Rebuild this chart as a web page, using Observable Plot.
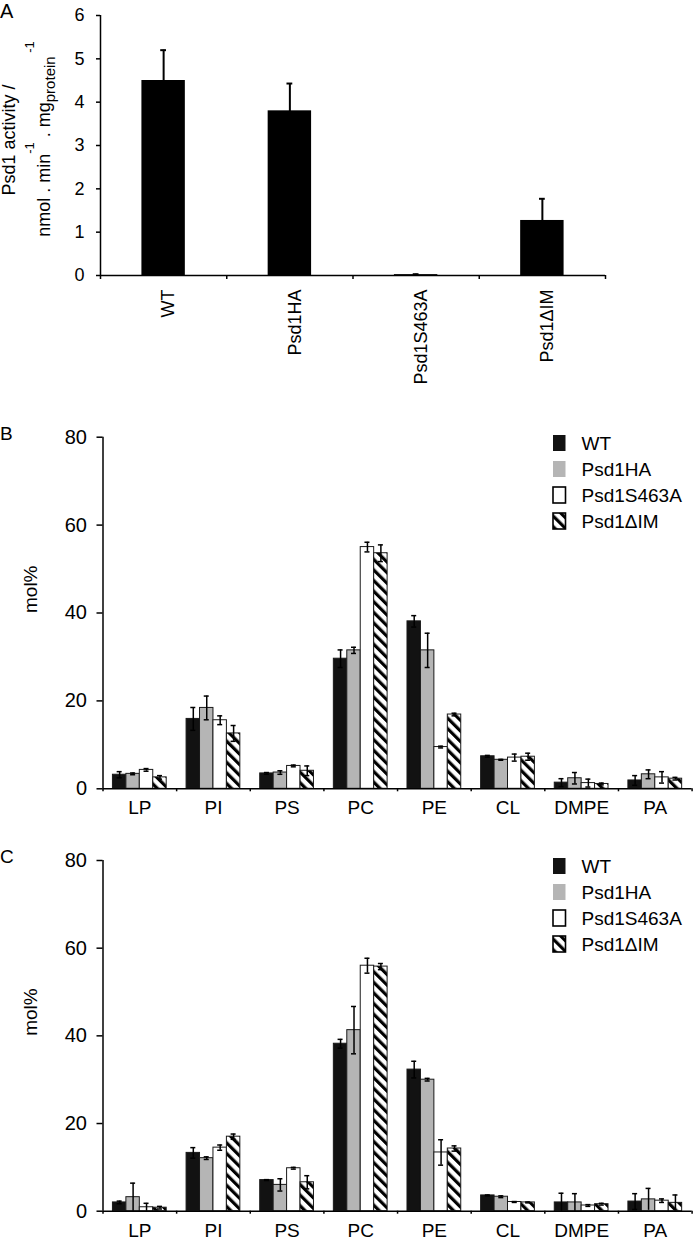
<!DOCTYPE html>
<html><head><meta charset="utf-8">
<script src="https://cdn.jsdelivr.net/npm/d3@7"></script>
<script src="https://cdn.jsdelivr.net/npm/@observablehq/plot@0.6"></script>
<style>
body{margin:0;background:#fff;}
#fig{position:relative;width:693px;height:1239px;font-family:"Liberation Sans",Arial,sans-serif;}
#fig svg.panel{position:absolute;left:0;}
</style></head><body>
<svg width="0" height="0" style="position:absolute">
<defs><pattern id="hatch" patternUnits="userSpaceOnUse" width="7.5" height="7.5" patternTransform="rotate(-45)">
<rect width="7.5" height="7.5" fill="#fff"/><rect width="3.2" height="7.5" fill="#000"/></pattern></defs></svg>
<div id="fig"></div>
<script>
// ---------- data ----------
const strains = ["WT", "Psd1HA", "Psd1S463A", "Psd1ΔIM"];
const categories = ["LP", "PI", "PS", "PC", "PE", "CL", "DMPE", "PA"];

// Panel A: Psd1 activity
const activity    = [4.5, 3.8, 0.02, 1.27];
const activityErr = [0.7, 0.63, 0.01, 0.5];
const ticksA = [0, 1, 2, 3, 4, 5, 6];

// Panel B: mol% (means, errors) per strain
const bWT    = [3.2, 15.9, 3.5, 29.6, 38.1, 7.4, 1.4, 1.9];
const bHA    = [3.4, 18.4, 3.7, 31.5, 31.5, 6.6, 2.4, 3.3];
const bS463A = [4.3, 15.6, 5.2, 55.0, 9.5, 7.1, 1.3, 2.6];
const bDIM   = [2.6, 12.6, 4.1, 53.6, 16.9, 7.3, 1.1, 2.3];
const bWTerr    = [0.7, 2.6, 0.2, 2.0, 1.3, 0.2, 0.9, 1.1];
const bHAerr    = [0.2, 2.7, 0.4, 0.7, 3.9, 0.1, 1.3, 1.0];
const bS463Aerr = [0.3, 1.0, 0.2, 1.1, 0.2, 0.8, 0.9, 1.3];
const bDIMerr   = [0.4, 1.8, 1.1, 1.9, 0.3, 0.8, 0.2, 0.3];

// Panel C: mol% (means, errors) per strain
const cWT    = [2.0, 13.3, 7.1, 38.2, 32.3, 3.6, 2.0, 2.2];
const cHA    = [3.2, 12.1, 6.0, 41.3, 30.0, 3.3, 2.0, 2.7];
const cS463A = [0.9, 14.5, 9.8, 56.0, 13.4, 2.1, 1.3, 2.4];
const cDIM   = [0.8, 17.0, 6.6, 55.8, 14.3, 2.0, 1.6, 1.9];
const cWTerr    = [0.3, 1.2, 0.1, 1.0, 1.9, 0.1, 2.1, 1.8];
const cHAerr    = [3.2, 0.3, 1.4, 5.4, 0.3, 0.2, 2.0, 2.5];
const cS463Aerr = [0.9, 0.6, 0.2, 1.7, 2.9, 0.1, 0.2, 0.4];
const cDIMerr   = [0.3, 0.6, 1.5, 0.7, 0.6, 0.1, 0.2, 1.8];

const ticksBC = [0, 20, 40, 60, 80];

// ---------- styles ----------
const FONT = '"Liberation Sans", Arial, sans-serif';
const fills = ["#121212", "#b5b5b5", "#ffffff", "url(#hatch)"];
const baseStyle = {fontFamily: FONT, fontSize: "19px", color: "#000", background: "transparent", overflow: "visible"};
const fig = document.getElementById("fig");

function place(svg, top) {
  svg.classList.add("panel");
  svg.style.top = top + "px";
  fig.appendChild(svg);
  return d3.select(svg);
}

// ---------- Panel A ----------
{
  const rows = strains.map((s, j) => ({strain: s, j, v: activity[j], e: activityErr[j]}));
  const pad = 0.328, bw = 0.344, cap = 0.023;
  const cx = d => d.j + pad + bw / 2;
  const p = Plot.plot({
    width: 693, height: 400,
    marginLeft: 100, marginRight: 88, marginTop: 15, marginBottom: 125,
    x: {domain: [0, strains.length], axis: null},
    y: {domain: [0, 6], axis: null},
    style: baseStyle,
    marks: [
      Plot.rectY(rows, {x1: d => d.j + pad, x2: d => d.j + pad + bw, y1: 0, y2: "v", fill: "#000"}),
      Plot.ruleX(rows, {x: cx, y1: d => Math.max(0, d.v - d.e), y2: d => d.v + d.e, stroke: "#000", strokeWidth: 2}),
      Plot.ruleY(rows, {y: d => d.v + d.e, x1: d => cx(d) - cap, x2: d => cx(d) + cap, stroke: "#000", strokeWidth: 2}),
      Plot.ruleX([0], {stroke: "#000", strokeWidth: 1.5}),
      Plot.ruleY([0], {stroke: "#000", strokeWidth: 1.5}),
      Plot.axisY({ticks: ticksA, tickFormat: d3.format("d"), tickSize: 4, tickPadding: 12, fontSize: 18, strokeWidth: 1.5, label: null}),
      Plot.axisX({ticks: d3.range(strains.length + 1), tickSize: 4, tickFormat: () => "", strokeWidth: 1.5, label: null}),
      Plot.axisX({ticks: strains.map((s, j) => j + 0.5), tickFormat: t => strains[Math.floor(t)], tickSize: 0, tickPadding: 14, tickRotate: -90, fontSize: 18, dx: 5, label: null})
    ]
  });
  const svg = place(p, 0);
  svg.append("text").attr("x", 0).attr("y", 18).attr("text-anchor", "start").attr("font-size", 20).attr("font-family", FONT).text("A");
  // y label, two lines
  svg.append("text").attr("transform", "translate(15,140) rotate(-90)").attr("text-anchor", "middle")
    .attr("font-size", 18).attr("font-family", FONT).text("Psd1 activity /");
  const t2 = svg.append("text").attr("transform", "translate(50,139) rotate(-90)").attr("text-anchor", "middle")
    .attr("font-size", 18).attr("font-family", FONT);
  t2.append("tspan").text("nmol . min");
  t2.append("tspan").attr("dy", -16).attr("font-size", 13).text("-1");
  t2.append("tspan").attr("dy", 16).text(" . mg");
  t2.append("tspan").attr("dy", 5).attr("font-size", 15).text("protein");
  t2.append("tspan").attr("dy", -21).attr("font-size", 13).text(" -1");
}

// ---------- Panels B and C ----------
function grouped({means, errs, top, height, mt, mb, letter}) {
  const rows = [];
  categories.forEach((c, i) => strains.forEach((s, j) =>
    rows.push({cat: c, i, strain: s, j, v: means[j][i], e: errs[j][i]})));
  const pad = 0.135, bw = 0.1825, cap = 0.034;
  const x1 = d => d.i + pad + d.j * bw;
  const cx = d => x1(d) + bw / 2;
  const p = Plot.plot({
    width: 693, height,
    marginLeft: 102.5, marginRight: 1.4, marginTop: mt, marginBottom: mb,
    x: {domain: [0, categories.length], axis: null},
    y: {domain: [0, 80], axis: null},
    color: {type: "ordinal", domain: strains, range: fills},
    style: baseStyle,
    marks: [
      Plot.rectY(rows, {x1, x2: d => x1(d) + bw, y1: 0, y2: "v", fill: "strain", stroke: "#1a1a1a", strokeWidth: 1}),
      Plot.ruleX(rows, {x: cx, y1: d => Math.max(0, d.v - d.e), y2: d => d.v + d.e, stroke: "#000", strokeWidth: 1.5}),
      Plot.ruleY(rows, {y: d => d.v + d.e, x1: d => cx(d) - cap, x2: d => cx(d) + cap, stroke: "#000", strokeWidth: 1.5}),
      Plot.ruleY(rows.filter(d => d.v - d.e > 0.3), {y: d => d.v - d.e, x1: d => cx(d) - cap, x2: d => cx(d) + cap, stroke: "#000", strokeWidth: 1.5}),
      Plot.ruleX([0], {stroke: "#000", strokeWidth: 1.5}),
      Plot.ruleY([0], {stroke: "#000", strokeWidth: 1.5}),
      Plot.axisY({ticks: ticksBC, tickSize: 6, tickPadding: 10, fontSize: 20, strokeWidth: 1.5, label: null}),
      Plot.text(["mol%"], {frameAnchor: "left", rotate: -90, dx: -80, lineAnchor: "top", fontSize: 19}),
      Plot.axisX({ticks: d3.range(categories.length + 1), tickSize: 3, tickFormat: () => "", strokeWidth: 1.5, label: null}),
      Plot.axisX({ticks: categories.map((c, i) => i + 0.5), tickFormat: t => categories[Math.floor(t)], tickSize: 0, tickPadding: 12, fontSize: 19, label: null})
    ]
  });
  const svg = place(p, top);
  svg.append("text").attr("x", 0).attr("y", 40).attr("text-anchor", "start").attr("font-size", 19).attr("font-family", FONT).text(letter);
  // legend
  const lg = svg.append("g").attr("font-family", FONT).attr("font-size", 19).attr("text-anchor", "start");
  strains.forEach((s, j) => {
    const cy = 43 + j * 26;
    lg.append("rect").attr("x", 553).attr("y", cy - 8).attr("width", 12.5).attr("height", 16)
      .attr("fill", fills[j]).attr("stroke", j >= 2 ? "#000" : "none").attr("stroke-width", 1.6);
    lg.append("text").attr("x", 581.5).attr("y", cy).attr("dy", "0.36em").text(s);
  });
}

grouped({means: [bWT, bHA, bS463A, bDIM], errs: [bWTerr, bHAerr, bS463Aerr, bDIMerr], top: 400, height: 423, mt: 36.7, mb: 34.7, letter: "B"});
grouped({means: [cWT, cHA, cS463A, cDIM], errs: [cWTerr, cHAerr, cS463Aerr, cDIMerr], top: 823, height: 416, mt: 37, mb: 28.3, letter: "C"});
</script>
</body></html>
